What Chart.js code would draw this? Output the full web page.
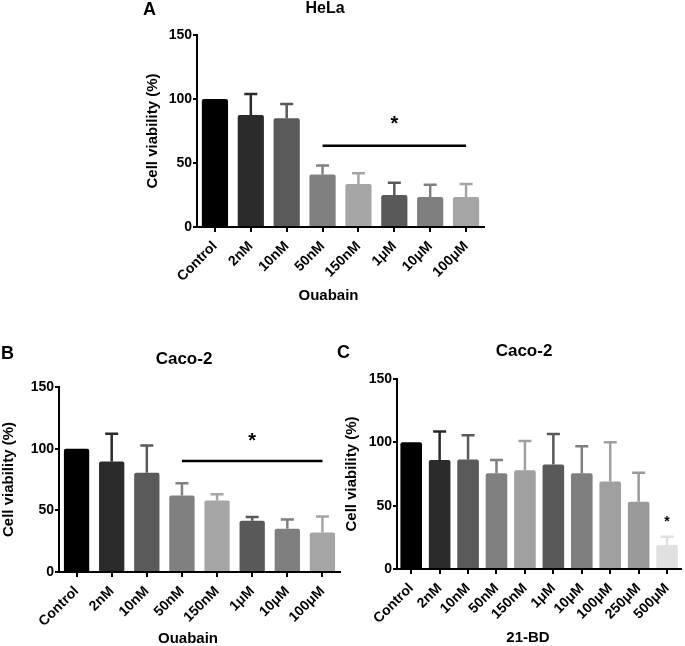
<!DOCTYPE html>
<html>
<head>
<meta charset="utf-8">
<script src="https://cdn.jsdelivr.net/npm/chart.js@4.4.0/dist/chart.umd.min.js"></script>
<style>
body { margin: 0; background: #fff; width: 685px; height: 646px; position: relative; overflow: hidden; }
canvas { position: absolute; }
</style>
</head>
<body>
<canvas id="chartA" width="360" height="320" style="left:130px;top:0px"></canvas>
<canvas id="chartB" width="343" height="326" style="left:0px;top:320px"></canvas>
<canvas id="chartC" width="355" height="326" style="left:330px;top:320px"></canvas>
<script>
const ouabainLabels = ['Control', '2nM', '10nM', '50nM', '150nM', '1\u03bcM', '10\u03bcM', '100\u03bcM'];
const bdLabels = ['Control', '2nM', '10nM', '50nM', '150nM', '1\u03bcM', '10\u03bcM', '100\u03bcM', '250\u03bcM', '500\u03bcM'];

const helaMeans = [100, 87.5, 85, 41, 33.5, 25, 23.5, 23.5];
const helaErrors = [0, 16.5, 11, 7, 8.5, 9.5, 9.5, 10];

const cacoOuabainMeans = [100, 89.5, 80.5, 62, 58, 41.5, 35, 32];
const cacoOuabainErrors = [0, 22.5, 22, 10, 5, 3, 7.5, 13];

const cacoBdMeans = [100, 86, 86.5, 75.5, 78, 82.5, 75.5, 69, 53, 19];
const cacoBdErrors = [0, 22.5, 19, 10.5, 23, 24, 21.5, 31, 23, 6.5];

const ouabainColors = ['#000000', '#2b2b2b', '#5a5a5a', '#808080', '#a6a6a6', '#595959', '#7f7f7f', '#a5a5a5'];
const bdColors = ['#000000', '#2b2b2b', '#5a5a5a', '#808080', '#a0a0a0', '#595959', '#7f7f7f', '#a0a0a0', '#9a9a9a', '#e0e0e0'];

// significance marks: [from index, to index, line level, star level]
const helaSig = [3, 7, 63.5, 84.5];
const cacoOuabainSig = [3, 7, 90, 111];
const cacoBdSig = [9, 9, null, 40.5];

const fontFamily = "'Liberation Sans', Arial, sans-serif";
Chart.defaults.font.family = fontFamily;
Chart.defaults.font.weight = 'bold';
Chart.defaults.color = '#000';

const errorBarPlugin = {
    id: 'errorBars',
    afterDatasetsDraw(chart) {
        const ctx = chart.ctx;
        const xScale = chart.scales.x;
        const yScale = chart.scales.y;
        const ds = chart.data.datasets[0];
        ctx.save();
        ctx.lineWidth = 2.5;
        for (let i = 0; i < ds.data.length; i++) {
            const err = ds.errorBars[i];
            if (!err) continue;
            const x = xScale.getPixelForValue(i);
            const yBar = yScale.getPixelForValue(ds.data[i]);
            const yTop = yScale.getPixelForValue(ds.data[i] + err);
            ctx.strokeStyle = ds.backgroundColor[i];
            ctx.beginPath();
            ctx.moveTo(x, yBar);
            ctx.lineTo(x, yTop);
            ctx.moveTo(x - 6.5, yTop);
            ctx.lineTo(x + 6.5, yTop);
            ctx.stroke();
        }
        ctx.restore();
    }
};

const panelDecorPlugin = {
    id: 'panelDecor',
    afterDraw(chart, args, opts) {
        const ctx = chart.ctx;
        const xScale = chart.scales.x;
        const yScale = chart.scales.y;
        ctx.save();
        ctx.fillStyle = '#000';
        ctx.textBaseline = 'middle';

        ctx.textAlign = 'left';
        ctx.font = 'bold 18px ' + fontFamily;
        ctx.fillText(opts.letter, opts.letterPos[0], opts.letterPos[1]);

        ctx.textAlign = 'center';
        ctx.font = 'bold ' + opts.titleSize + 'px ' + fontFamily;
        ctx.fillText(opts.title, opts.titlePos[0], opts.titlePos[1]);

        ctx.font = 'bold 15px ' + fontFamily;
        ctx.fillText(opts.xTitle, opts.xTitlePos[0], opts.xTitlePos[1]);

        const sig = opts.sig;
        const x1 = xScale.getPixelForValue(sig[0]);
        const x2 = xScale.getPixelForValue(sig[1]);
        if (sig[2] !== null) {
            const ly = yScale.getPixelForValue(sig[2]);
            ctx.strokeStyle = '#000';
            ctx.lineWidth = 2.5;
            ctx.beginPath();
            ctx.moveTo(x1, ly);
            ctx.lineTo(x2, ly);
            ctx.stroke();
        }
        const sy = yScale.getPixelForValue(sig[3]);
        ctx.textBaseline = 'alphabetic';
        ctx.font = 'bold ' + opts.starSize + 'px ' + fontFamily;
        ctx.fillText('*', (x1 + x2) / 2, sy + opts.starSize * 0.575);
        ctx.restore();
    }
};

function createViabilityChart(id, labels, means, errors, colors, cfg) {
    return new Chart(id, {
        type: 'bar',
        data: {
            labels: labels,
            datasets: [{
                data: means,
                errorBars: errors,
                backgroundColor: colors,
                borderRadius: 2,
                barPercentage: cfg.barPct,
                categoryPercentage: 1
            }]
        },
        options: {
            responsive: false,
            animation: false,
            devicePixelRatio: 1,
            layout: { padding: { top: cfg.padTop, right: cfg.padRight, left: 0, bottom: 0 } },
            plugins: {
                legend: { display: false },
                tooltip: { enabled: false },
                panelDecor: cfg.decor
            },
            scales: {
                x: {
                    grid: { display: true, drawOnChartArea: false, offset: false, color: '#000', lineWidth: 2, tickLength: 5 },
                    border: { color: '#000', width: 2 },
                    ticks: { autoSkip: false, minRotation: 45, maxRotation: 45, color: '#000', font: { size: 14, weight: 'bold' }, padding: 6 },
                    afterFit: function (scale) { scale.height = cfg.xHeight; }
                },
                y: {
                    min: 0,
                    max: 150,
                    grid: { display: true, drawOnChartArea: false, color: '#000', lineWidth: 2, tickLength: 4 },
                    border: { color: '#000', width: 2 },
                    ticks: { stepSize: 50, color: '#000', font: { size: 14, weight: 'bold' }, padding: 1 },
                    title: {
                        display: true,
                        text: 'Cell viability (%)',
                        color: '#000',
                        font: { size: 15, weight: 'bold' },
                        padding: { top: cfg.yTitlePad, bottom: 0 }
                    },
                    afterFit: function (scale) { scale.width = cfg.yWidth; }
                }
            }
        },
        plugins: [errorBarPlugin, panelDecorPlugin]
    });
}

createViabilityChart('chartA', ouabainLabels, helaMeans, helaErrors, ouabainColors, {
    barPct: 0.73, padTop: 35, padRight: 6, xHeight: 93, yWidth: 67, yTitlePad: 14,
    decor: {
        letter: 'A', letterPos: [13, 10],
        title: 'HeLa', titleSize: 16, titlePos: [195, 9],
        xTitle: 'Ouabain', xTitlePos: [198.5, 296],
        sig: helaSig, starSize: 20
    }
});

createViabilityChart('chartB', ouabainLabels, cacoOuabainMeans, cacoOuabainErrors, ouabainColors, {
    barPct: 0.72, padTop: 67, padRight: 3, xHeight: 74, yWidth: 59, yTitlePad: 0,
    decor: {
        letter: 'B', letterPos: [1, 34],
        title: 'Caco-2', titleSize: 17, titlePos: [184, 39],
        xTitle: 'Ouabain', xTitlePos: [188, 319],
        sig: cacoOuabainSig, starSize: 20
    }
});

createViabilityChart('chartC', bdLabels, cacoBdMeans, cacoBdErrors, bdColors, {
    barPct: 0.76, padTop: 59, padRight: 1, xHeight: 77, yWidth: 67, yTitlePad: 13,
    decor: {
        letter: 'C', letterPos: [7, 33],
        title: 'Caco-2', titleSize: 17, titlePos: [194, 31],
        xTitle: '21-BD', xTitlePos: [198, 318],
        sig: cacoBdSig, starSize: 14
    }
});
</script>
</body>
</html>
